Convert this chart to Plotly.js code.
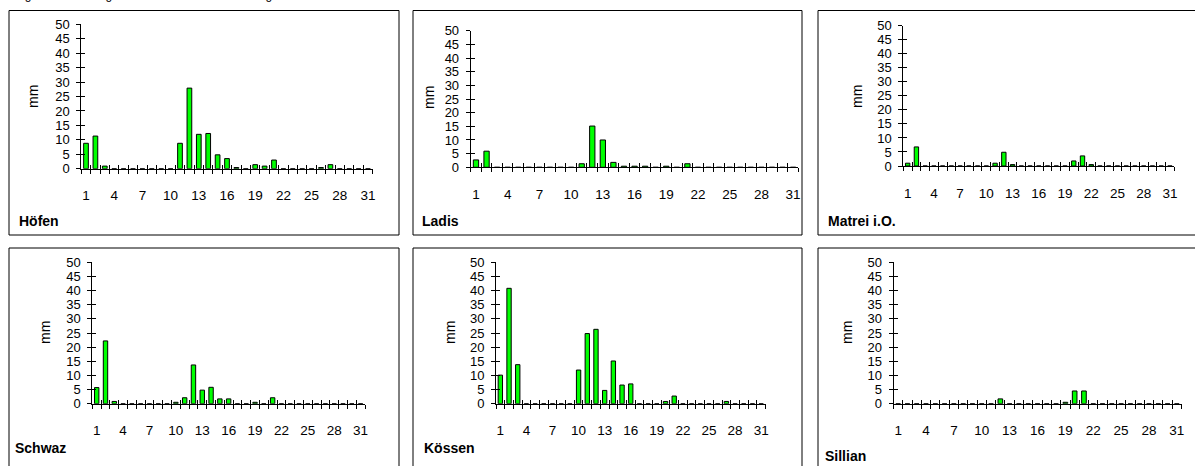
<!DOCTYPE html>
<html><head><meta charset="utf-8">
<script src="https://cdn.plot.ly/plotly-3.0.1.min.js"></script>
<style>html,body{margin:0;padding:0;background:#fff}#chart{width:1195px;height:466px}</style>
</head><body><div id="chart"></div>
<script>
// ---- data ----
const days = [1,2,3,4,5,6,7,8,9,10,11,12,13,14,15,16,17,18,19,20,21,22,23,24,25,26,27,28,29,30,31];
const xLabels = [1,4,7,10,13,16,19,22,25,28,31];
const yTicks = [0,5,10,15,20,25,30,35,40,45,50];
const stations = ['Höfen','Ladis','Matrei i.O.','Schwaz','Kössen','Sillian'];
const hoefen  = [8.8,11.3,0.9,0,0,0,0,0,0,0,8.8,27.9,11.9,12.2,4.8,3.5,0.4,0,1.4,0.9,3.0,0,0,0,0,0.4,1.4,0,0,0,0];
const ladis   = [2.7,5.9,0,0,0,0,0,0,0,0,1.3,15.1,10.0,1.8,0.4,0.4,0.4,0,0.4,0,1.3,0,0,0,0,0,0,0,0,0,0];
const matrei  = [1.0,6.8,0,0,0,0,0,0,0,0,1.0,4.9,0.5,0,0,0,0,0,0,1.8,3.6,0.5,0,0,0,0,0,0,0,0,0];
const schwaz  = [5.7,22.2,0.8,0,0,0,0,0,0,0.5,2.1,13.7,4.8,5.8,1.7,1.7,0,0,0.5,0,2.1,0,0,0,0,0,0,0,0,0,0];
const koessen = [10.1,40.8,13.8,0,0,0,0,0,0,11.9,24.8,26.3,4.7,15.1,6.6,7.0,0,0,0,0.8,2.7,0,0,0,0,0,0.8,0,0,0,0];
const sillian = [0,0,0,0,0,0,0,0,0,0,0,1.7,0,0,0,0,0,0,0.5,4.5,4.5,0,0,0,0,0,0,0,0,0,0];
const series = [hoefen, ladis, matrei, schwaz, koessen, sillian];
const titleText = 'Tagesniederschlag an Tiroler Messstellen im August';

// ---- layout geometry (pixels) ----
const W = 1195, H = 466;
const geom = [
  {x0:81.3,  x1:372.7,  yb:168.7, yt:24.3,  box:[9,10.5,399,235],   mmX:33,  mmY:97,  nX:17,  nY:220.5},
  {x0:470.7, x1:798.4,  yb:167.3, yt:30.7,  box:[413,10.5,802,235], mmX:429, mmY:98,  nX:420, nY:220.5},
  {x0:903.3, x1:1174.3, yb:166,   yt:25.7,  box:[818,10.5,1200,235],mmX:857, mmY:96,  nX:825.5,nY:220.5},
  {x0:92.3,  x1:365,    yb:403.7, yt:262.3, box:[9,248,399,475],    mmX:45,  mmY:333, nX:13,  nY:448},
  {x0:496,   x1:765.5,  yb:403.7, yt:262.3, box:[413,248,802,475],  mmX:450, mmY:333, nX:421.5,nY:448},
  {x0:893.5, x1:1181.5, yb:403.7, yt:262.3, box:[818,248,1200,475], mmX:847, mmY:333, nX:823, nY:456}
];
const px = v => v / W;
const py = v => 1 - v / H;
const FONT = 'Arial, "Liberation Sans", sans-serif';

const bounds = [];
for (let i = 0; i <= 31; i++) bounds.push(i + 0.5);

const data = [];
const layout = {
  width: W, height: H, margin: {l:0, r:0, t:0, b:0},
  paper_bgcolor: '#fff', plot_bgcolor: 'rgba(0,0,0,0)',
  showlegend: false, font: {family: FONT, size: 13, color: '#000'},
  shapes: [], annotations: [], bargap: 0
};

function id(prefix, n) { return n === 1 ? prefix : prefix + n; }
function key(prefix, n) { return n === 1 ? prefix + 'axis' : prefix + 'axis' + n; }
function dummy(xa, ya) {
  return {type:'scatter', mode:'markers', x:[1], y:[0], xaxis:xa, yaxis:ya,
    marker:{size:1, opacity:0}, hoverinfo:'skip', showlegend:false};
}

geom.forEach((g, p) => {
  const xm = 3*p + 1, xi = 3*p + 2, xl = 3*p + 3;
  const ym = 2*p + 1, yi = 2*p + 2;
  const xdom = [px(g.x0), px(g.x1)];
  const ydom = [py(g.yb), py(g.yt)];
  const common = {showgrid:false, zeroline:false, fixedrange:true};
  layout[key('x', xm)] = Object.assign({}, common, {
    domain: xdom, range: [0.5, 31.5], anchor: id('y', ym),
    showline: true, linecolor: '#000', linewidth: 1,
    tickmode: 'array', tickvals: bounds, ticks: 'outside', ticklen: 4, tickcolor: '#000', tickwidth: 1,
    showticklabels: false
  });
  layout[key('x', xi)] = Object.assign({}, common, {
    overlaying: id('x', xm), range: [0.5, 31.5], anchor: id('y', ym),
    showline: false, tickmode: 'array', tickvals: bounds, ticks: 'inside', ticklen: 4, tickcolor: '#000', tickwidth: 1,
    showticklabels: false
  });
  layout[key('x', xl)] = Object.assign({}, common, {
    overlaying: id('x', xm), range: [0.5, 31.5], anchor: id('y', ym),
    showline: false, tickmode: 'array', tickvals: xLabels, ticktext: xLabels.map(String), ticks: '',
    showticklabels: true, ticklabelstandoff: 17, tickfont: {family: FONT, size: 13.5, color: '#000'}
  });
  layout[key('y', ym)] = Object.assign({}, common, {
    domain: ydom, range: [0, 50], anchor: id('x', xm),
    showline: true, linecolor: '#000', linewidth: 1,
    tickmode: 'array', tickvals: yTicks, ticktext: yTicks.map(String), ticks: 'outside', ticklen: 4, tickcolor: '#000', tickwidth: 1,
    showticklabels: true, ticklabelstandoff: 4, tickfont: {family: FONT, size: 13, color: '#000'}
  });
  layout[key('y', yi)] = Object.assign({}, common, {
    overlaying: id('y', ym), range: [0, 50], anchor: id('x', xm),
    showline: false, tickmode: 'array', tickvals: yTicks, ticks: 'inside', ticklen: 4, tickcolor: '#000', tickwidth: 1,
    showticklabels: false
  });
  data.push(dummy(id('x', xi), id('y', ym)));
  data.push(dummy(id('x', xl), id('y', ym)));
  data.push(dummy(id('x', xm), id('y', yi)));
  data.push({
    type: 'bar', x: days, y: series[p], xaxis: id('x', xm), yaxis: id('y', ym),
    width: 0.5, marker: {color: '#00ff00', line: {color: '#000', width: 1}}, hoverinfo: 'x+y'
  });
  layout.shapes.push({type:'rect', xref:'paper', yref:'paper',
    x0: px(g.box[0]), x1: px(g.box[2]), y0: py(g.box[3]), y1: py(g.box[1]),
    line: {color:'#000', width:1}, fillcolor:'rgba(0,0,0,0)', layer:'below'});
  layout.annotations.push({xref:'paper', yref:'paper', x: px(g.mmX), y: py(g.mmY), text:'mm',
    textangle: -90, showarrow:false, xanchor:'center', yanchor:'middle', font:{family:FONT, size:14, color:'#000'}});
  layout.annotations.push({xref:'paper', yref:'paper', x: px(g.nX), y: py(g.nY), text:'<b>' + stations[p] + '</b>',
    showarrow:false, xanchor:'left', yanchor:'middle', font:{family:FONT, size:14, color:'#000'}});
});

layout.annotations.push({xref:'paper', yref:'paper', x: px(10), y: py(4), text: titleText,
  showarrow:false, xanchor:'left', yanchor:'bottom', font:{family:FONT, size:12, color:'#000'}});

Plotly.newPlot('chart', data, layout, {staticPlot: true, displayModeBar: false});
</script></body></html>
